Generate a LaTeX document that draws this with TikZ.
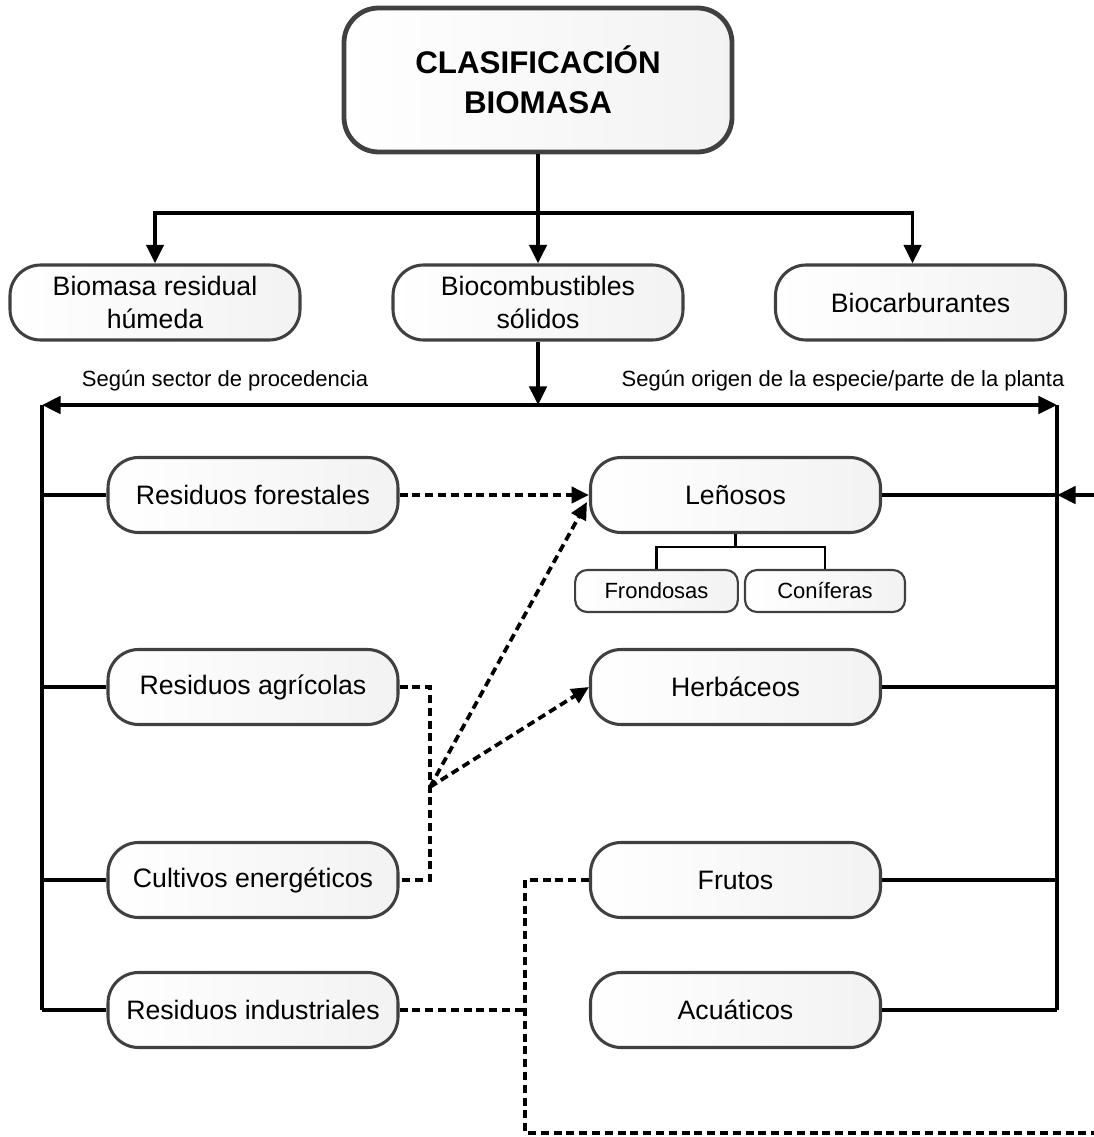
\documentclass[tikz,border=0pt]{standalone}
\usepackage{fontspec}
\setmainfont{Liberation Sans}
\usetikzlibrary{arrows.meta,calc}
\begin{document}
\begin{tikzpicture}[x=0.75pt,y=-0.75pt,
  box/.style={draw=black!75, line width=2.3pt, rounded corners=23pt,
    left color=white, right color=black!5, minimum width=217.5pt,
    minimum height=56.25pt, align=center, inner sep=2pt,
    font=\fontsize{20}{25}\selectfont},
  topbox/.style={box, line width=3.6pt, minimum width=291pt, minimum height=108pt,
    rounded corners=26pt, font=\fontsize{23.5}{30}\selectfont\bfseries},
  smallbox/.style={draw=black!75, line width=1.6pt, rounded corners=9pt,
    left color=white, right color=black!5, minimum height=31.5pt,
    inner sep=2pt, font=\fontsize{16.5}{20}\selectfont},
  lbl/.style={inner sep=0pt, font=\fontsize{16.5}{20}\selectfont},
  conn/.style={line width=2.8pt, black},
  thin/.style={line width=2.2pt, black},
  bus/.style={line width=3.6pt, black},
  arr/.style={conn, -{Triangle[length=14pt,width=13pt]}},
  dsh/.style={conn, dash pattern=on 6pt off 3.6pt},
  darr/.style={dsh, -{Triangle[length=13pt,width=12pt]}}
]
\useasboundingbox (0,0) rectangle (1094,1137);

% nodes
\node[topbox] (top) at (538,80) {CLASIFICACIÓN\\BIOMASA};
\node[box] (bmr) at (155,302.5) {Biomasa residual\\húmeda};
\node[box] (bcs) at (538,302.5) {Biocombustibles\\sólidos};
\node[box] (bcar) at (920.5,302.5) {Biocarburantes};

\node[lbl] (lsec) at (225,381) {Según sector de procedencia};
\node[lbl] (lori) at (843,381) {Según origen de la especie/parte de la planta};

\node[box] (rf) at (253,495) {Residuos forestales};
\node[box] (ra) at (253,687) {Residuos agrícolas};
\node[box] (ce) at (253,880) {Cultivos energéticos};
\node[box] (ri) at (253,1010) {Residuos industriales};

\node[box] (len) at (735.5,495) {Leñosos};
\node[box] (her) at (735.5,687) {Herbáceos};
\node[box] (fru) at (735.5,880) {Frutos};
\node[box] (acu) at (735.5,1010) {Acuáticos};

\node[smallbox, minimum width=122pt] (fro) at (656.5,591) {Frondosas};
\node[smallbox, minimum width=120pt] (con) at (825,591) {Coníferas};

% coordinates
\coordinate (tj) at (538,213);
\coordinate (bj) at (538,405);
\coordinate (bl) at (42,405);
\coordinate (br) at (1057,405);
\coordinate (blb) at (42,1010);
\coordinate (brb) at (1057,1010);
\coordinate (rin) at (1094,495);
\coordinate (tr) at (735.5,547);
\coordinate (J) at (430,787);
\coordinate (dv) at (525,1133);
\coordinate (dend) at (1094,1133);

% top level
\draw[conn] (top.south) -- (tj);
\draw[arr] (tj) -| (bmr.north);
\draw[arr] (tj) -- (bcs.north);
\draw[arr] (tj) -| ([xshift=-6pt]bcar.north);

% second bus
\draw[arr] (bcs.south) -- (bj);
\draw[arr] (bj) -- (bl);
\draw[arr] (bj) -- (br);
\draw[bus] (bl) -- (blb);
\draw[bus] (br) -- (brb);

% left branches
\foreach \n in {rf,ra,ce,ri} \draw[conn] (\n.west) -- (\n.west -| bl);
% right branches
\foreach \n in {len,her,fru,acu} \draw[conn] (\n.east) -- (\n.east -| br);
\draw[arr] (rin) -- (rin -| br);

% tree under Leñosos
\draw[thin] (len.south) -- (tr);
\draw[thin] (fro.north) |- (tr) -| (con.north);

% dashed links
\draw[darr] (rf.east) -- (len.west);
\draw[dsh] (ra.east) -| (J) |- (ce.east);
\draw[darr] (J) -- ($(len.west)+(-2,7)$);
\draw[darr] (J) -- (her.west);
\draw[dsh] (fru.west) -| (dv) -- (dend);
\draw[dsh] (ri.east) -- (ri.east -| dv);
\end{tikzpicture}
\end{document}
